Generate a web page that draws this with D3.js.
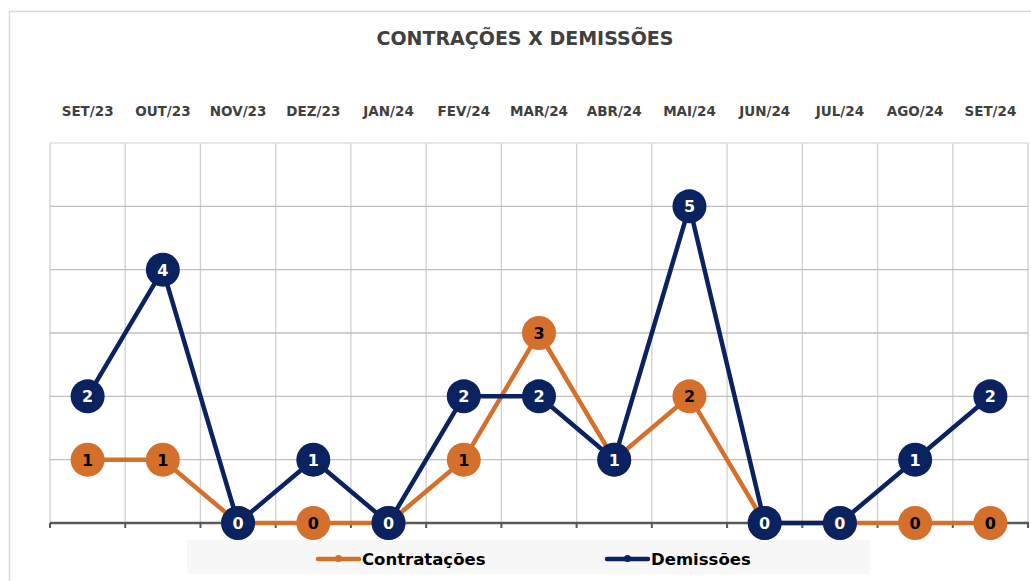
<!DOCTYPE html>
<html>
<head>
<meta charset="utf-8">
<script src="https://cdn.jsdelivr.net/npm/d3@7"></script>
<style>
  body { margin: 0; background: #fff; }
  svg { display: block; font-family: "DejaVu Sans", Verdana, sans-serif; }
</style>
</head>
<body>
<div id="chart"></div>
<script>
const months = ["SET/23", "OUT/23", "NOV/23", "DEZ/23", "JAN/24", "FEV/24", "MAR/24", "ABR/24", "MAI/24", "JUN/24", "JUL/24", "AGO/24", "SET/24"];
const contratacoes = [1, 1, 0, 0, 0, 1, 3, 1, 2, 0, 0, 0, 0];
const demissoes = [2, 4, 0, 1, 0, 2, 2, 1, 5, 0, 0, 1, 2];
const yTicks = [0, 1, 2, 3, 4, 5, 6];

const width = 1031, height = 581;
const plot = { left: 50, right: 1028, top: 143, bottom: 523 };

const series = [
    { name: "Contratações", values: contratacoes, color: "#D56F2C", text: "#000" },
    { name: "Demissões", values: demissoes, color: "#0B2261", text: "#fff" }
];

const svg = d3.select("#chart").append("svg")
    .attr("width", width)
    .attr("height", height);

// chart border
svg.append("rect")
    .attr("x", 9.5).attr("y", 11.5)
    .attr("width", 1040).attr("height", 600)
    .attr("fill", "#fff")
    .attr("stroke", "#d9d9d9")
    .attr("stroke-width", 1.5);

const x = d3.scaleBand().domain(months).range([plot.left, plot.right]);
const y = d3.scaleLinear().domain([0, 6]).range([plot.bottom, plot.top]);
const cx = d => x(d) + x.bandwidth() / 2;

// title
svg.append("text")
    .attr("x", 525).attr("y", 45)
    .attr("text-anchor", "middle")
    .attr("font-size", "19px")
    .attr("font-weight", "bold")
    .attr("fill", "#404040")
    .text("CONTRAÇÕES X DEMISSÕES");

// vertical gridlines at band boundaries
const bounds = months.map(m => x(m)).concat([plot.right]);
svg.append("g").selectAll("line")
    .data(bounds)
    .join("line")
    .attr("x1", d => d).attr("x2", d => d)
    .attr("y1", plot.top).attr("y2", plot.bottom)
    .attr("stroke", "#d0d0d0")
    .attr("stroke-width", 1.3);

// horizontal gridlines
svg.append("g").selectAll("line")
    .data(yTicks.slice(1))
    .join("line")
    .attr("x1", plot.left).attr("x2", plot.right)
    .attr("y1", d => y(d)).attr("y2", d => y(d))
    .attr("stroke", d => d === 6 ? "#e0e0e0" : "#bfbfbf")
    .attr("stroke-width", 1.3);

// category labels on top
svg.append("g")
    .attr("transform", "translate(0,116)")
    .call(d3.axisTop(x).tickSize(0).tickPadding(0))
    .call(g => g.select(".domain").remove())
    .call(g => g.selectAll("text")
        .attr("font-size", "13.5px")
        .attr("font-weight", "bold")
        .attr("font-family", "DejaVu Sans, Verdana, sans-serif")
        .attr("fill", "#404040"));

// bottom axis with ticks at band boundaries
const axisG = svg.append("g");
axisG.append("line")
    .attr("x1", plot.left).attr("x2", plot.right + 1)
    .attr("y1", y(0)).attr("y2", y(0))
    .attr("stroke", "#595959").attr("stroke-width", 2.5);
axisG.selectAll("line.tick")
    .data(bounds)
    .join("line")
    .attr("class", "tick")
    .attr("x1", d => d).attr("x2", d => d)
    .attr("y1", y(0)).attr("y2", y(0) + 5)
    .attr("stroke", "#595959").attr("stroke-width", 2);

// legend
svg.append("rect")
    .attr("x", 187).attr("y", 540)
    .attr("width", 683).attr("height", 34)
    .attr("fill", "#f7f7f7");
const legendX = [318, 607];
series.forEach((s, i) => {
    const g = svg.append("g").attr("transform", `translate(${legendX[i]},559)`);
    g.append("line").attr("x1", 0).attr("x2", 41)
        .attr("stroke", s.color).attr("stroke-width", 4.5).attr("stroke-linecap", "round");
    g.append("circle").attr("cx", 20.5).attr("cy", -0.5).attr("r", 3.5).attr("fill", s.color);
    g.append("text").attr("x", 44).attr("y", 6)
        .attr("font-size", "16.5px").attr("font-weight", "bold").attr("fill", "#000")
        .text(s.name);
});

// series lines and markers
const line = d3.line().x((d, i) => cx(months[i])).y(d => y(d));
series.forEach(s => {
    const g = svg.append("g");
    g.append("path")
        .attr("d", line(s.values))
        .attr("fill", "none")
        .attr("stroke", s.color)
        .attr("stroke-width", 4.5)
        .attr("stroke-linejoin", "round");
    g.selectAll("circle")
        .data(s.values)
        .join("circle")
        .attr("cx", (d, i) => cx(months[i]))
        .attr("cy", d => y(d))
        .attr("r", 17)
        .attr("fill", s.color);
});

// data labels on top
series.forEach(s => {
    svg.append("g").selectAll("text")
        .data(s.values)
        .join("text")
        .attr("x", (d, i) => cx(months[i]))
        .attr("y", d => y(d) + 6)
        .attr("text-anchor", "middle")
        .attr("font-size", "16px")
        .attr("font-weight", "bold")
        .attr("fill", s.text)
        .text(d => d);
});
</script>
</body>
</html>
